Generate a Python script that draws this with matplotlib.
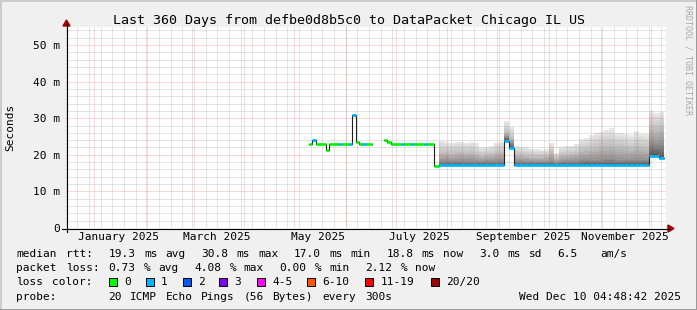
import re
import numpy as np
import matplotlib
matplotlib.use('Agg')
import matplotlib.pyplot as plt
import matplotlib.dates as mdates
from matplotlib.patches import Rectangle, Polygon
from matplotlib.lines import Line2D

W, H = 697, 310
MONO = 'DejaVu Sans Mono'

title = 'Last 360 Days from defbe0d8b5c0 to DataPacket Chicago IL US'
t_end = np.datetime64('2025-12-10T04:48:42')
t_start = t_end - np.timedelta64(360, 'D')

ytick_vals = [0, 10, 20, 30, 40, 50]
ytick_labels = ['0', '10 m', '20 m', '30 m', '40 m', '50 m']
xlabel_months = ['2025-01', '2025-03', '2025-05', '2025-07', '2025-09', '2025-11']
xlabel_texts = ['January 2025', 'March 2025', 'May 2025', 'July 2025',
                'September 2025', 'November 2025']

loss_labels = ['0', '1', '2', '3', '4-5', '6-10', '11-19', '20/20']
loss_colors = ['#00ff00', '#00b8ff', '#0059ff', '#7e00ff',
               '#ff00ff', '#ff5500', '#ff0000', '#a10000']

# median rtt in ms, loss class index per step
# segment A: May - June, 2 day steps
a_start, a_step = '2025-05-10', 2
a_med = [23.0, 24.0, 23.0, 23.0, 23.0, 21.3, 23.0, 23.0, 23.0, 23.0,
         23.0, 23.0, 23.0, 30.8, 23.6, 23.0, 23.0, 23.0, 23.0]
a_loss = [0, 1, 0, 0, 0, 0, 0, 0, 0, 1, 0, 0, 1, 1, 0, 0, 1, 0, 0]

# segment B: June - July, 2 day steps
b_start, b_step = '2025-06-24', 2
b_med = [24.0, 23.4, 23.0, 23.0, 23.0, 23.0, 23.0, 23.0, 23.0, 23.0,
         23.0, 23.0, 23.0, 23.0, 23.0]
b_loss = [0, 0, 0, 0, 0, 1, 0, 0, 1, 0, 0, 0, 1, 0, 0]

# segment C: end of July - December, 3 day steps, with smoke
c_start, c_step = '2025-07-24', 3
c_med = [17.0,
         17.1, 17.1, 17.1, 17.1, 17.1, 17.1, 17.1, 17.1, 17.1, 17.1, 17.1, 17.1, 17.1,
         23.7, 21.8,
         17.1, 17.1, 17.1, 17.1, 17.1, 17.1, 17.1, 17.1, 17.1, 17.1, 17.1, 17.1, 17.1,
         17.1, 17.1, 17.1, 17.1, 17.1, 17.1, 17.1, 17.1, 17.1, 17.1, 17.1, 17.1, 17.1, 17.1,
         19.8, 19.6, 19.0]
c_loss = [0] + [1] * 45
c_top = [17.0,
         23.9, 23.4, 23.2, 23.5, 23.6, 23.3, 23.6, 23.1,
         22.0, 22.2, 22.4, 23.3, 23.6,
         29.2, 27.6,
         22.3, 22.2, 22.1, 21.7, 21.5, 21.4, 21.5,
         23.1, 20.4, 22.2, 22.3, 22.5, 22.9,
         24.2, 24.6, 25.4, 25.9, 26.3, 26.7, 27.2, 25.9,
         26.0, 25.6, 25.3, 26.4, 25.8, 25.6,
         32.0, 31.4, 31.8]
c_mid = [17.0,
         20.6, 20.8, 20.4, 20.7, 20.9, 20.5, 20.8, 20.3,
         19.8, 20.0, 20.1, 20.6, 20.9,
         26.2, 24.6,
         20.0, 19.9, 19.7, 19.5, 19.4, 19.5, 19.6,
         20.8, 19.0, 19.9, 20.0, 20.2, 20.4,
         21.2, 21.5, 21.8, 22.1, 22.4, 22.6, 23.0, 22.2,
         22.3, 22.0, 21.8, 22.4, 22.1, 21.9,
         27.5, 27.0, 27.3]
c_dark = [17.0,
          18.3, 18.4, 18.2, 18.3, 18.4, 18.3, 18.3, 18.2, 18.1, 18.2, 18.2, 18.3, 18.4,
          25.0, 23.2,
          18.2, 18.2, 18.1, 18.1, 18.0, 18.1, 18.1, 18.3, 17.9, 18.1, 18.2, 18.2, 18.3,
          18.5, 18.6, 18.6, 18.7, 18.7, 18.8, 18.8, 18.6, 18.6, 18.5, 18.5, 18.7, 18.6, 18.6,
          23.5, 23.0, 23.3]

rtt_line = 'median rtt:  19.3 ms avg  30.8 ms max  17.0 ms min  18.8 ms now  3.0 ms sd  6.5   am/s'
loss_line = 'packet loss: 0.73 % avg  4.08 % max  0.00 % min  2.12 % now'
probe_line = 'probe:       20 ICMP Echo Pings (56 Bytes) every 300s'
stamp = 'Wed Dec 10 04:48:42 2025'

# grey level at median, dark, mid and top of the smoke
smoke_grey = [0.30, 0.55, 0.74, 0.90]


def fx(x):
    return x / W


def fy(y):
    return 1 - y / H


def edges(start, step, n):
    t = np.datetime64(start) + np.arange(n + 1) * np.timedelta64(step, 'D')
    return mdates.date2num(t)


def ext(v):
    return np.append(v, v[-1])


fig = plt.figure(figsize=(W / 100, H / 100), dpi=100)
fig.patch.set_facecolor('#f0f0f0')

ax = fig.add_axes([fx(66), fy(228), 600 / W, 201 / H])
ax.set_facecolor('white')
ymax = 201 / 3.66
ax.set_xlim(mdates.date2num(t_start), mdates.date2num(t_end))
ax.set_ylim(0, ymax)
for s in ax.spines.values():
    s.set_visible(False)

# grid
minor_c = (0.55, 0.55, 0.55, 0.45)
major_c = (1.0, 0.25, 0.25, 0.4)
weeks = np.arange(np.datetime64('2024-12-15'), t_end, np.timedelta64(7, 'D'))
months = np.arange(np.datetime64('2025-01'), np.datetime64('2026-01')).astype('datetime64[D]')
ax.vlines(mdates.date2num(weeks), 0, ymax, colors=[minor_c], linestyles=[(0, (1, 1))], lw=0.72, zorder=3)
ax.vlines(mdates.date2num(months), 0, ymax, colors=[major_c], linestyles=[(0, (1, 1))], lw=0.72, zorder=3)
minor_y = [v for v in range(2, 55, 2) if v % 10]
ax.hlines(minor_y, *ax.get_xlim(), colors=[minor_c], linestyles=[(0, (1, 1))], lw=0.72, zorder=3)
ax.hlines([10, 20, 30, 40, 50], *ax.get_xlim(), colors=[major_c], linestyles=[(0, (1, 1))], lw=0.72, zorder=3)

# smoke: shaded from dark near the median to light at the top
xc = edges(c_start, c_step, len(c_med))
levels = [ext(c_med), ext(c_dark), ext(c_mid), ext(c_top)]
nsub = 5
for i in range(3, 0, -1):
    lo, hi = levels[i - 1], levels[i]
    g_lo, g_hi = smoke_grey[i - 1], smoke_grey[i]
    for s in range(nsub, 0, -1):
        f = s / nsub
        g = g_lo + (g_hi - g_lo) * f
        ax.fill_between(xc, levels[0], lo + (hi - lo) * f, step='post',
                        color=(g, g, g), lw=0, zorder=2)

# median line: dark step line then loss-coloured bands
xa = edges(a_start, a_step, len(a_med))
xb = edges(b_start, b_step, len(b_med))
ax.plot(xa, ext(a_med), drawstyle='steps-post', color='#202020', lw=0.8, zorder=4)
xbc = np.concatenate([xb[:-1], xc])
ybc = np.concatenate([b_med, ext(c_med)])
ax.plot(xbc, ybc, drawstyle='steps-post', color='#202020', lw=0.8, zorder=4)

for x, med, loss in [(xa, a_med, a_loss), (xb, b_med, b_loss), (xc, c_med, c_loss)]:
    ax.hlines(med, x[:-1], x[1:], colors=[loss_colors[l] for l in loss],
              lw=2.0, zorder=5, capstyle='butt')

# ticks
ax.set_yticks(ytick_vals, ytick_labels)
xt = [mdates.date2num(np.datetime64(m + '-15T12:00')) for m in xlabel_months]
ax.set_xticks(xt, xlabel_texts)
ax.tick_params(axis='both', length=0, labelsize=8)
ax.tick_params(axis='y', pad=4.3)
ax.tick_params(axis='x', pad=3)
for lab in ax.get_xticklabels() + ax.get_yticklabels():
    lab.set_family(MONO)

# axes with arrows
fig.add_artist(Line2D([fx(62), fx(669)], [fy(228.5), fy(228.5)], color='black', lw=0.8))
fig.add_artist(Line2D([fx(66.5), fx(66.5)], [fy(232), fy(24)], color='black', lw=0.8))
fig.add_artist(Polygon([(fx(668), fy(225)), (fx(674), fy(228.5)), (fx(668), fy(232))],
                       closed=True, color='#9e0000', transform=fig.transFigure))
fig.add_artist(Polygon([(fx(63), fy(26)), (fx(66.5), fy(20)), (fx(70), fy(26))],
                       closed=True, color='#9e0000', transform=fig.transFigure))

# titles
fig.text(fx(349), fy(24), title, family=MONO, fontsize=9.6, ha='center', va='baseline')
fig.text(fx(10), fy(127), 'Seconds', family=MONO, fontsize=8, rotation=90, ha='center', va='center')
fig.text(fx(688), fy(5), 'RRDTOOL / TOBI OETIKER', family=MONO, fontsize=6, rotation=270,
         ha='center', va='top', color='#a8a8a8')


def mono_line(s, y, x0=16, cw=7.12):
    for m in re.finditer(r'\S+', s):
        fig.text(fx(x0 + m.start() * cw), fy(y), m.group(), family=MONO, fontsize=8, va='baseline')


mono_line(rtt_line, 257)
mono_line(loss_line, 271.3)
mono_line('loss color:', 285.3)
mono_line(probe_line, 299.7)
fig.text(fx(681), fy(299.7), stamp, family=MONO, fontsize=8, ha='right', va='baseline')

box_x = [108.5, 145.7, 182.7, 219.3, 256.7, 306.7, 365, 430.7]
for bx, lab, col in zip(box_x, loss_labels, loss_colors):
    fig.add_artist(Rectangle((fx(bx), fy(286)), 8 / W, 8 / H, facecolor=col,
                             edgecolor='black', lw=0.7, transform=fig.transFigure))
    fig.text(fx(bx + 15.3), fy(285.3), lab, family=MONO, fontsize=8, va='baseline')

# frame
fig.add_artist(Line2D([0, 1], [fy(0.5), fy(0.5)], color='#cbcbcb', lw=1.4))
fig.add_artist(Line2D([fx(0.5), fx(0.5)], [0, 1], color='#cbcbcb', lw=1.4))
fig.add_artist(Line2D([0, 1], [fy(309.5), fy(309.5)], color='#999999', lw=1.4))
fig.add_artist(Line2D([fx(696.5), fx(696.5)], [0, 1], color='#999999', lw=1.4))

fig.savefig('out.png', dpi=100, facecolor=fig.get_facecolor())
